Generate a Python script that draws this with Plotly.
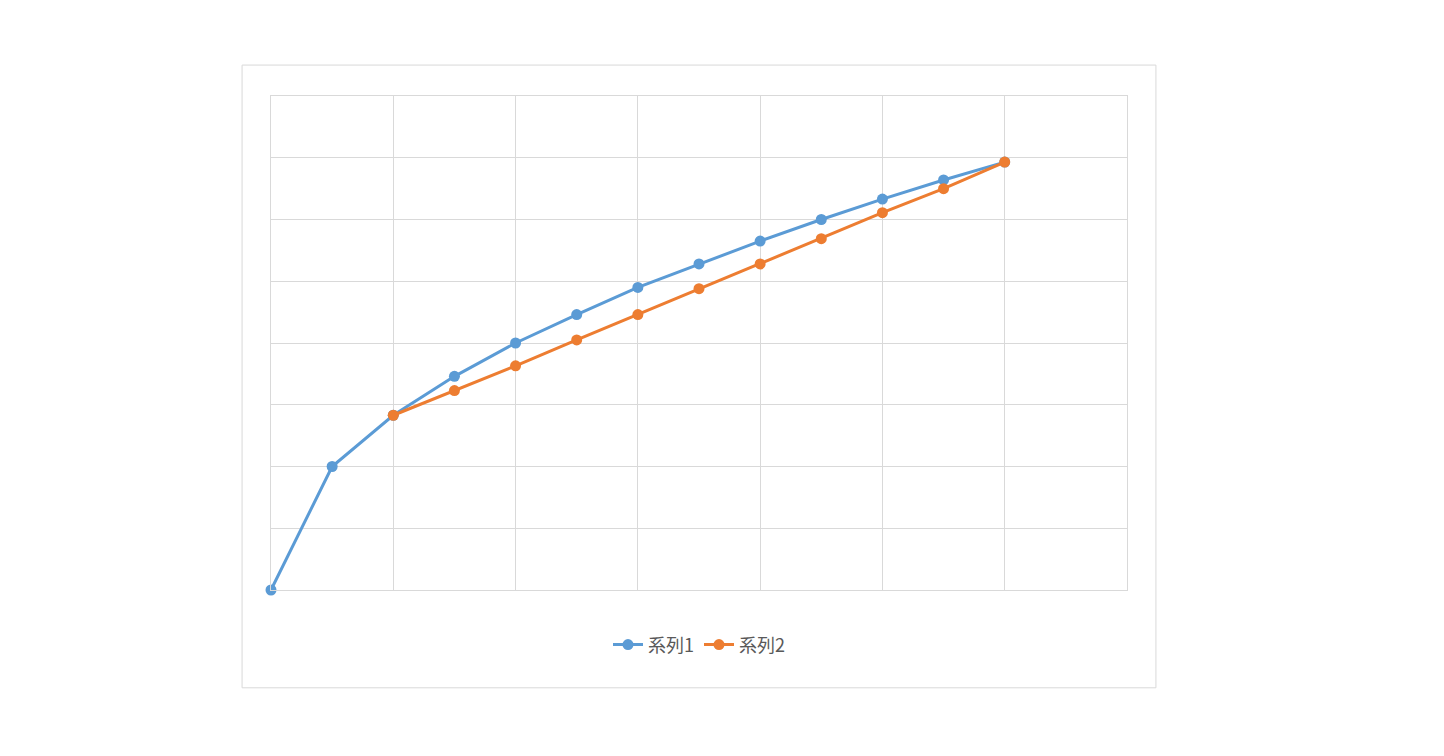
import plotly.graph_objects as go

x1 = [0, 0.5, 1, 1.5, 2, 2.5, 3, 3.5, 4, 4.5, 5, 5.5, 6]
y1 = [0, 2.0, 2.83, 3.46, 4.0, 4.46, 4.9, 5.28, 5.65, 6.0, 6.33, 6.64, 6.93]
x2 = [1, 1.5, 2, 2.5, 3, 3.5, 4, 4.5, 5, 5.5, 6]
y2 = [2.83, 3.23, 3.63, 4.05, 4.46, 4.88, 5.28, 5.69, 6.11, 6.5, 6.93]

fig = go.Figure()
fig.add_trace(go.Scatter(x=x1, y=y1, name="系列1", mode="lines+markers", cliponaxis=False,
                         line=dict(color="#5B9BD5", width=3), marker=dict(size=11)))
fig.add_trace(go.Scatter(x=x2, y=y2, name="系列2", mode="lines+markers", cliponaxis=False,
                         line=dict(color="#ED7D31", width=3), marker=dict(size=11)))

grid = dict(showgrid=True, gridcolor="#d9d9d9", gridwidth=1, zeroline=False,
            showticklabels=False, showline=True, linecolor="#d9d9d9", mirror=True, ticks="")
fig.update_xaxes(range=[0, 7], dtick=1, **grid)
fig.update_yaxes(range=[0, 8], dtick=1, **grid)

# outer chart border
fig.add_shape(type="rect", xref="paper", yref="paper",
              x0=-0.0338, x1=1.0338, y0=-0.198, y1=1.0626,
              line=dict(color="#d9d9d9", width=1))

fig.update_layout(
    width=1444, height=756,
    margin=dict(l=263, r=325, t=88, b=174),
    plot_bgcolor="white", paper_bgcolor="white",
    font=dict(family="Noto Sans CJK JP", size=18, color="#595959"),
    legend=dict(orientation="h", x=0.5, xanchor="center", y=-0.111, yanchor="middle"),
)

fig.write_html("out.html")
